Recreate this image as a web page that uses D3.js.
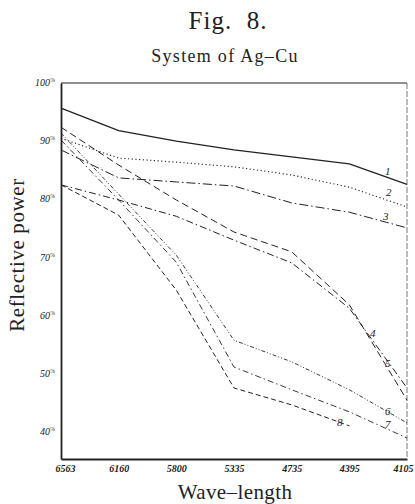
<!DOCTYPE html>
<html>
<head>
<meta charset="utf-8">
<script src="https://cdn.jsdelivr.net/npm/d3@7"></script>
<style>
  body { margin: 0; background: #fff; }
  svg { display: block; }
</style>
</head>
<body>
<div id="chart"></div>
<script>
// wave-lengths (categories, equally spaced on the plate)
const waveLengths = ["6563", "6160", "5800", "5335", "4735", "4395", "4105"];

// reflective power (%) of the eight alloys
const curve1 = [95.7, 91.8, 90.0, 88.5, 87.3, 86.1, 82.6];
const curve2 = [90.5, 87.1, 86.4, 85.6, 84.2, 82.1, 78.7];
const curve3 = [88.5, 83.7, 83.0, 82.3, 79.4, 77.8, 75.1];
const curve4 = [82.5, 79.9, 77.1, 73.0, 69.1, 61.3, 47.6];
const curve5 = [92.4, 85.9, 79.9, 74.4, 71.0, 61.9, 45.5];
const curve6 = [91.4, 80.9, 70.4, 55.8, 52.1, 47.3, 41.6];
const curve7 = [90.2, 79.9, 69.2, 51.2, 47.3, 43.5, 39.0];
const curve8 = [82.5, 77.3, 64.4, 47.6, 44.7, 41.1];

const yTicks = [100, 90, 80, 70, 60, 50, 40];

const width = 415, height = 504;
const margin = {top: 83, right: 8, bottom: 45, left: 61};

const svg = d3.select("#chart")
  .append("svg")
    .attr("width", width)
    .attr("height", height);

const x = d3.scalePoint()
  .domain(waveLengths)
  .range([margin.left, width - margin.right]);

const y = d3.scaleLinear()
  .domain([35.4, 100])
  .range([height - margin.bottom, margin.top]);

const ink = "#222";

// titles
svg.append("text")
  .attr("x", 228).attr("y", 29)
  .attr("text-anchor", "middle")
  .attr("font-family", "Liberation Serif, serif")
  .attr("font-size", 25)
  .attr("letter-spacing", 1)
  .attr("fill", ink)
  .style("white-space", "pre")
  .text("Fig.  8.");

svg.append("text")
  .attr("x", 225).attr("y", 62)
  .attr("text-anchor", "middle")
  .attr("font-family", "Liberation Serif, serif")
  .attr("font-size", 18)
  .attr("letter-spacing", 1.3)
  .attr("fill", ink)
  .text("System of Ag–Cu");

// frame
const x0 = x(waveLengths[0]), x1 = x(waveLengths[waveLengths.length - 1]);
svg.append("line")
  .attr("x1", x0).attr("x2", x1)
  .attr("y1", y(100)).attr("y2", y(100))
  .attr("stroke", ink).attr("stroke-width", 1.2);
svg.append("line")
  .attr("x1", x1).attr("x2", x1)
  .attr("y1", y(100)).attr("y2", y(35.4))
  .attr("stroke", "#777").attr("stroke-width", 1)
  .attr("stroke-dasharray", "6,2");

// axes
const yAxis = svg.append("g")
  .attr("transform", `translate(${x0},0)`)
  .call(d3.axisLeft(y).tickValues(yTicks).tickSize(0).tickFormat(""));
yAxis.select(".domain").attr("stroke", ink).attr("stroke-width", 1.8);

const xAxis = svg.append("g")
  .attr("transform", `translate(0,${y(35.4)})`)
  .call(d3.axisBottom(x).tickSize(0).tickPadding(6));
xAxis.select(".domain").attr("stroke", ink).attr("stroke-width", 1.8);
xAxis.selectAll("text")
  .attr("font-family", "Liberation Serif, serif")
  .attr("font-style", "italic")
  .attr("font-weight", "bold")
  .attr("font-size", 10)
  .attr("fill", ink)
  .attr("dx", (d, i) => i === 0 ? 4 : 0)
  .attr("text-anchor", (d, i) => i === waveLengths.length - 1 ? "end" : "middle")
  .attr("x", (d, i) => i === waveLengths.length - 1 ? 6 : 0);

// y tick labels
const yLab = svg.append("g")
  .selectAll("text")
  .data(yTicks)
  .join("text")
    .attr("x", x0 - 6)
    .attr("y", d => y(d) + 3)
    .attr("text-anchor", "end")
    .attr("font-family", "Liberation Serif, serif")
    .attr("font-style", "italic")
    .attr("font-size", 10)
    .attr("fill", ink);
yLab.append("tspan").text(d => d);
yLab.append("tspan")
  .attr("dy", -4)
  .attr("font-size", 6)
  .text("%");

// axis titles
svg.append("text")
  .attr("transform", `translate(24,255) rotate(-90)`)
  .attr("text-anchor", "middle")
  .attr("font-family", "Liberation Serif, serif")
  .attr("font-size", 21)
  .attr("letter-spacing", 0.6)
  .attr("fill", ink)
  .text("Reflective power");

svg.append("text")
  .attr("x", 235).attr("y", 499)
  .attr("text-anchor", "middle")
  .attr("font-family", "Liberation Serif, serif")
  .attr("font-size", 21)
  .attr("letter-spacing", 0.4)
  .attr("fill", ink)
  .text("Wave–length");

// curves
const curves = [
  {id: "1", values: curve1, dash: null,          w: 1.3, lx: 385, ly: 175},
  {id: "2", values: curve2, dash: "1.2,2.5",     w: 1.1, lx: 386, ly: 196},
  {id: "3", values: curve3, dash: "9,3,1.5,3",   w: 1.0, lx: 383, ly: 220},
  {id: "4", values: curve4, dash: "7,3,1.5,3",   w: 1.0, lx: 370, ly: 337},
  {id: "5", values: curve5, dash: "7,4",         w: 1.0, lx: 385, ly: 367},
  {id: "6", values: curve6, dash: "4,2,1,2,1,2", w: 0.9, lx: 385, ly: 415},
  {id: "7", values: curve7, dash: "6,3,1.5,3",   w: 0.9, lx: 385, ly: 428},
  {id: "8", values: curve8, dash: "5,3",         w: 1.0, lx: 337, ly: 426}
];

const line = d3.line()
  .x((d, i) => x(waveLengths[i]))
  .y(d => y(d));

svg.append("g")
  .selectAll("path")
  .data(curves)
  .join("path")
    .attr("d", d => line(d.values))
    .attr("fill", "none")
    .attr("stroke", ink)
    .attr("stroke-width", d => d.w)
    .attr("stroke-dasharray", d => d.dash);

svg.append("g")
  .selectAll("text")
  .data(curves)
  .join("text")
    .attr("x", d => d.lx)
    .attr("y", d => d.ly)
    .attr("font-family", "Liberation Serif, serif")
    .attr("font-style", "italic")
    .attr("font-size", 11)
    .attr("fill", ink)
    .text(d => d.id);
</script>
</body>
</html>
